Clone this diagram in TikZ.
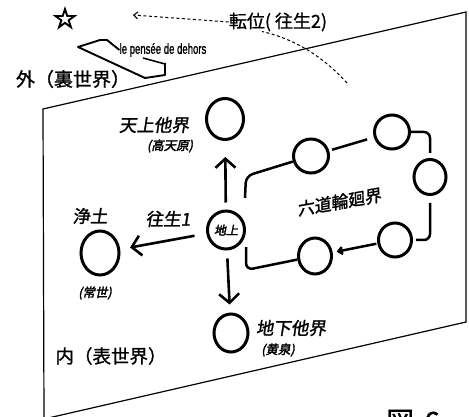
\documentclass[tikz,border=0pt]{standalone}
\usepackage{fontspec}
\usetikzlibrary{arrows.meta,shapes.geometric}
\newfontfamily\jp[FakeBold=1]{Noto Sans CJK JP}
\newfontfamily\jps[FakeSlant=0.15,FakeBold=1.5]{Noto Sans CJK JP}
\newfontfamily\jpsb[FakeSlant=0.2,FakeBold=2.5]{Noto Sans CJK JP}
\newfontfamily\symf[FakeBold=4]{DejaVu Sans}
\newfontfamily\narrowf[FakeBold=1.5]{Liberation Sans}
\newcommand{\myfs}[1]{\fontsize{#1}{#1}\selectfont}
\begin{document}
\begin{tikzpicture}[x=1pt,y=-1pt,
  ring/.style={draw, ellipse, line width=3pt, inner sep=0pt},
  conn/.style={line width=2.5pt},
  bigarrow/.style={line width=2.6pt, -{Straight Barb[length=9pt,width=20pt]}},
  smallarrow/.style={-{Straight Barb[length=4pt,width=7pt]}},
  plane/.style={line width=1.2pt},
  lbl/.style={inner sep=0pt, font=\jps\myfs{17.5}},
  sub/.style={inner sep=0pt, font=\jpsb\myfs{12.5}},
  dashline/.style={line width=1pt, dash pattern=on 3pt off 2.5pt},
]
\useasboundingbox (0,0) rectangle (469,417);

% plane
\coordinate (p1) at (43,109);
\coordinate (p2) at (466,12);
\coordinate (p3) at (466,322);
\coordinate (p4) at (44,419);
\draw[plane] (p1) -- (p2) -- (p3) -- (p4) -- cycle;

% circles
\node[ring, minimum width=37, minimum height=41] (tenjo) at (225,119) {};
\node[ring, minimum width=37, minimum height=38, font=\jpsb\myfs{12}] (chijo) at (226,230) {地上};
\node[ring, minimum width=38, minimum height=44] (jodo) at (100,253) {};
\node[ring, minimum width=34, minimum height=38] (chika) at (231,333) {};
\node[ring, minimum width=35, minimum height=34] (A) at (311,156) {};
\node[ring, minimum width=35, minimum height=34] (B) at (392,132) {};
\node[ring, minimum width=32, minimum height=35] (C) at (430,177) {};
\node[ring, minimum width=33, minimum height=34] (D) at (395,240) {};
\node[ring, minimum width=33, minimum height=36] (E) at (315,256) {};

% labels
\node[lbl] (tenjoL) at (154,125) {天上他界};
\node[sub] (tenjoS) at (170,146) {(高天原)};
\node[lbl] (jodoL) at (90,216) {浄土};
\node[sub] (jodoS) at (95,293) {(常世)};
\node[lbl] (oujou1) at (168,219) {往生1};
\node[lbl] (chikaL) at (291,328) {地下他界};
\node[sub] (chikaS) at (278,350) {(黄泉)};
\node[lbl, rotate=10, font=\jps\myfs{17}] (rokudo) at (339,202) {六道輪廻界};
\node[inner sep=0pt, font=\jp\myfs{19}] (soto) at (73,79) {外（裏世界）};
\node[inner sep=0pt, font=\jp\myfs{18.5}] (uchi) at (111,356) {内（表世界）};
\node[inner sep=0pt, font=\jp\myfs{18}] (tenni) at (278,22) {転位(\hspace{4pt}往生2)};
\node[inner sep=0pt, font=\symf\myfs{28}] (star) at (65,18) {☆};
\node[inner sep=0pt, font=\narrowf\myfs{14.5}] (pensee) at (163,50) {\scalebox{0.66}[1]{le pensée de dehors}};
\node[inner sep=0pt, font=\jp\myfs{28}, anchor=base west] (zu) at (386,432) {図\hspace{10pt}6};

% main arrows
\draw[bigarrow, shorten <=7pt, shorten >=16pt] (chijo) -- (tenjo);
\draw[bigarrow, shorten <=12pt, shorten >=10pt] (chijo) -- (jodo);
\draw[bigarrow, shorten <=8pt, shorten >=8pt] (chijo) -- (chika);

% rokudo ring connectors
\coordinate (k1) at (246,176);
\coordinate (k5) at (246,270);
\draw[conn, rounded corners=7pt] ([shift={(19,-32)}]chijo.center) -- (k1) -- (A);
\draw[conn, shorten <=3pt, shorten >=7pt] (A) -- (B);
\draw[conn, rounded corners=6pt, shorten >=5pt] (B.east) -| (C.north);
\draw[conn, rounded corners=6pt, shorten <=7pt, shorten >=3pt] (C.south) |- (D.east);
\draw[conn, smallarrow, shorten <=1pt, shorten >=4pt] (D) -- (E);
\draw[conn, rounded corners=7pt] (E) -- (k5) -- ([shift={(20,17)}]chijo.center);

% dashed transfer
\coordinate (dstart) at (347,83);
\coordinate (dend) at (133,15);
\draw[dashline] (dstart) .. controls (328,62) and (300,40) .. ([xshift=-16pt]tenni.south);
\draw[dashline, smallarrow] (tenni.west) -- (dend);

% le pensee bracket
\draw[line width=1.9pt, line join=round] (pensee.west) -- (107,40) -- (100,40) -- (78,47) -- (145,78) -- (165,75) -- (165,63);
\draw[line width=1.5pt] (143,58) -- (165,64);
\end{tikzpicture}
\end{document}
